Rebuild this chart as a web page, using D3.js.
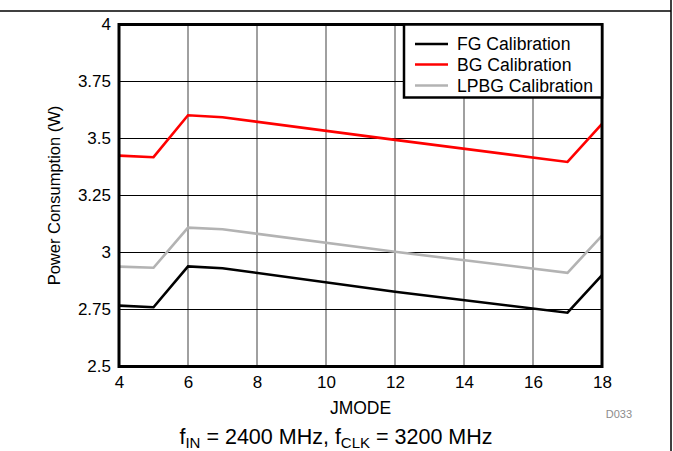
<!DOCTYPE html>
<html>
<head>
<meta charset="utf-8">
<script src="https://cdn.jsdelivr.net/npm/d3@7"></script>
<style>
  html, body { margin: 0; padding: 0; background: #fff; }
  svg { display: block; font-family: "Liberation Sans", Arial, Helvetica, sans-serif; }
</style>
</head>
<body>
<svg id="chart" width="673" height="451"></svg>
<script>
// ---- Data ----
const jmode = [4, 5, 6, 7, 12, 17, 18];
const fgCal   = [2.767, 2.760, 2.939, 2.931, 2.828, 2.736, 2.901];
const bgCal   = [3.425, 3.418, 3.602, 3.593, 3.494, 3.397, 3.564];
const lpbgCal = [2.938, 2.933, 3.109, 3.102, 3.003, 2.911, 3.074];
const seriesNames = ["FG Calibration", "BG Calibration", "LPBG Calibration"];
const seriesColors = ["#000000", "#ff0000", "#b3b3b3"];
const xTicks = [4, 6, 8, 10, 12, 14, 16, 18];
const yTicks = [2.5, 2.75, 3, 3.25, 3.5, 3.75, 4];
const yTickLabels = ["2.5", "2.75", "3", "3.25", "3.5", "3.75", "4"];

const svg = d3.select("#chart");
const W = 673, H = 451;
const plot = { left: 119, right: 602, top: 24.5, bottom: 366.5 };

const x = d3.scaleLinear().domain([4, 18]).range([plot.left, plot.right]);
const y = d3.scaleLinear().domain([2.5, 4]).range([plot.bottom, plot.top]);

// Outer frame lines (top and right)
svg.append("line").attr("x1", 0).attr("x2", 671).attr("y1", 11).attr("y2", 11)
  .attr("stroke", "#000").attr("stroke-width", 1.5);
svg.append("line").attr("x1", 671).attr("x2", 671).attr("y1", 0).attr("y2", H)
  .attr("stroke", "#000").attr("stroke-width", 1.5);

// Vertical grid (gray)
svg.append("g").selectAll("line").data(xTicks.slice(1, -1)).join("line")
  .attr("x1", d => x(d)).attr("x2", d => x(d))
  .attr("y1", plot.top).attr("y2", plot.bottom)
  .attr("stroke", "#808080").attr("stroke-width", 1.5);

// Horizontal grid (black)
svg.append("g").selectAll("line").data(yTicks.slice(1, -1)).join("line")
  .attr("x1", plot.left).attr("x2", plot.right)
  .attr("y1", d => y(d)).attr("y2", d => y(d))
  .attr("stroke", "#000").attr("stroke-width", 1);

// Axes (labels only)
const yAxis = d3.axisLeft(y).tickValues(yTicks).tickSize(0).tickPadding(8)
  .tickFormat((d, i) => yTickLabels[i]);
const gy = svg.append("g").attr("transform", `translate(${plot.left},0)`).call(yAxis);
gy.select(".domain").remove();
gy.selectAll("text").attr("font-size", 17).attr("fill", "#000")
  .attr("font-family", "'Liberation Sans', Arial, sans-serif");

const xAxis = d3.axisBottom(x).tickValues(xTicks).tickSize(0).tickPadding(9)
  .tickFormat(d3.format("d"));
const gx = svg.append("g").attr("transform", `translate(0,${plot.bottom})`).call(xAxis);
gx.select(".domain").remove();
gx.selectAll("text").attr("font-size", 17).attr("fill", "#000")
  .attr("font-family", "'Liberation Sans', Arial, sans-serif");

// Series lines
const allSeries = [fgCal, bgCal, lpbgCal];
const line = d3.line().x((d, i) => x(jmode[i])).y(d => y(d));
// draw gray first, then red, then black on top
[2, 1, 0].forEach(k => {
  svg.append("path").datum(allSeries[k])
    .attr("d", line).attr("fill", "none")
    .attr("stroke", seriesColors[k]).attr("stroke-width", 2.6)
    .attr("stroke-linejoin", "miter");
});

// Plot border
svg.append("rect").attr("x", plot.left).attr("y", plot.top)
  .attr("width", plot.right - plot.left).attr("height", plot.bottom - plot.top)
  .attr("fill", "none").attr("stroke", "#000").attr("stroke-width", 3);

// Legend
const lg = { x: 404, y: plot.top, w: plot.right - 404, h: 73 };
svg.append("rect").attr("x", lg.x).attr("y", lg.y).attr("width", lg.w).attr("height", lg.h)
  .attr("fill", "#fff").attr("stroke", "#000").attr("stroke-width", 2.5);
const rows = [44, 64.5, 85.5];
seriesNames.forEach((name, i) => {
  svg.append("line").attr("x1", 415).attr("x2", 448).attr("y1", rows[i]).attr("y2", rows[i])
    .attr("stroke", seriesColors[i]).attr("stroke-width", 2.6);
  svg.append("text").attr("x", 457).attr("y", rows[i]).attr("dy", "0.35em")
    .attr("font-size", 17.6).text(name);
});

// Axis titles
svg.append("text").attr("x", (plot.left + plot.right) / 2).attr("y", 414)
  .attr("text-anchor", "middle").attr("font-size", 17.5).text("JMODE");
svg.append("text")
  .attr("transform", `translate(60,${(plot.top + plot.bottom) / 2}) rotate(-90)`)
  .attr("text-anchor", "middle").attr("font-size", 16.5).text("Power Consumption (W)");

// Figure id
svg.append("text").attr("x", 632).attr("y", 418).attr("text-anchor", "end")
  .attr("font-size", 11).attr("fill", "#8c8c8c").text("D033");

// Conditions subtitle
const sub = svg.append("text").attr("x", 336).attr("y", 444)
  .attr("text-anchor", "middle").attr("font-size", 21.5);
sub.append("tspan").text("f");
sub.append("tspan").attr("font-size", 15).attr("dy", 4).text("IN");
sub.append("tspan").attr("dy", -4).text(" = 2400 MHz, f");
sub.append("tspan").attr("font-size", 15).attr("dy", 4).text("CLK");
sub.append("tspan").attr("dy", -4).text(" = 3200 MHz");
</script>
</body>
</html>
